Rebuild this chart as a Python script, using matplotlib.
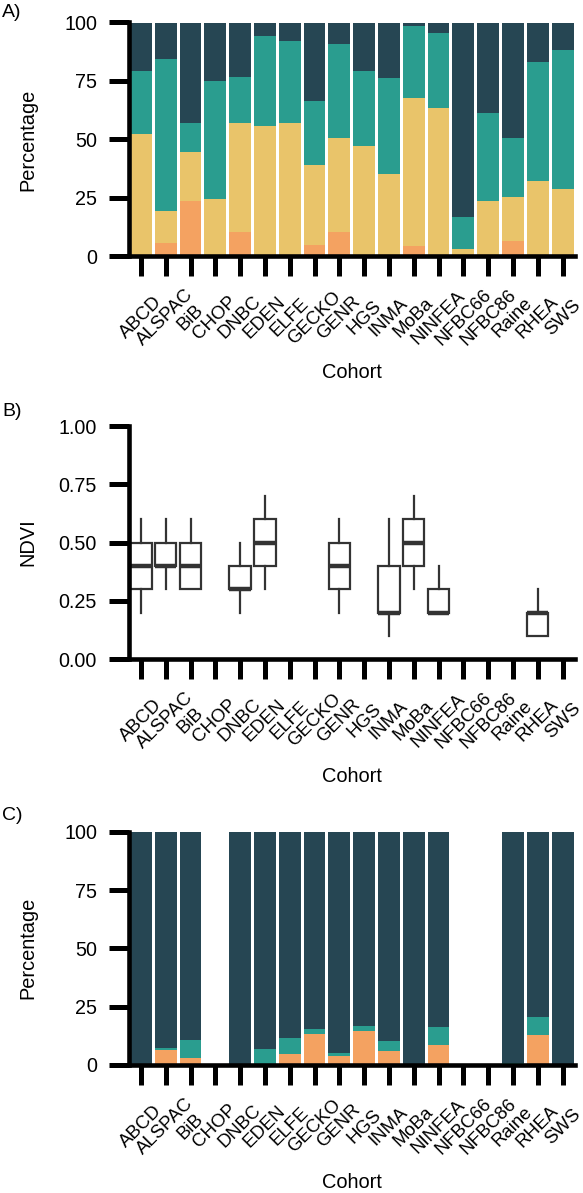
import numpy as np
import matplotlib
matplotlib.use("Agg")
import matplotlib.pyplot as plt
from matplotlib import transforms

plt.rcParams['font.family'] = ['Liberation Sans', 'DejaVu Sans']

cohorts = ['ABCD', 'ALSPAC', 'BiB', 'CHOP', 'DNBC', 'EDEN', 'ELFE', 'GECKO', 'GENR',
           'HGS', 'INMA', 'MoBa', 'NINFEA', 'NFBC66', 'NFBC86', 'Raine', 'RHEA', 'SWS']

# Panel A: percentage per category (stacked bottom -> top)
a_cat1 = [0, 5.7, 23.8, 0, 10.4, 0, 0, 5.0, 10.4, 0, 0, 4.6, 0, 0, 0, 6.6, 0, 0]
a_cat2 = [52.4, 13.8, 21.0, 24.5, 46.6, 55.6, 57.0, 34.1, 40.4, 47.0, 35.1, 63.2, 63.3, 3.3, 23.6, 18.9, 32.2, 28.9]
a_cat3 = [26.8, 65.0, 12.1, 50.3, 19.8, 38.7, 35.1, 27.4, 40.2, 32.2, 41.1, 30.5, 32.4, 13.5, 37.7, 25.3, 50.9, 59.5]
a_cat4 = [20.8, 15.5, 43.1, 25.2, 23.2, 5.7, 7.9, 33.5, 9.0, 20.8, 23.8, 1.7, 4.3, 83.2, 38.7, 49.2, 16.9, 11.6]

# Panel B: NDVI box summaries (NaN = no data)
b_whislo = [0.2, 0.3, 0.3, np.nan, 0.2, 0.3, np.nan, np.nan, 0.2, np.nan, 0.1, 0.3, 0.2, np.nan, np.nan, np.nan, 0.1, np.nan]
b_q1     = [0.3, 0.4, 0.3, np.nan, 0.3, 0.4, np.nan, np.nan, 0.3, np.nan, 0.2, 0.4, 0.2, np.nan, np.nan, np.nan, 0.1, np.nan]
b_med    = [0.4, 0.4, 0.4, np.nan, 0.3, 0.5, np.nan, np.nan, 0.4, np.nan, 0.2, 0.5, 0.2, np.nan, np.nan, np.nan, 0.2, np.nan]
b_q3     = [0.5, 0.5, 0.5, np.nan, 0.4, 0.6, np.nan, np.nan, 0.5, np.nan, 0.4, 0.6, 0.3, np.nan, np.nan, np.nan, 0.2, np.nan]
b_whishi = [0.6, 0.6, 0.6, np.nan, 0.5, 0.7, np.nan, np.nan, 0.6, np.nan, 0.6, 0.7, 0.4, np.nan, np.nan, np.nan, 0.3, np.nan]

# Panel C: percentage per category (stacked bottom -> top)
c_cat1 = [0, 6.4, 3.1, np.nan, 0, 0, 4.9, 13.1, 4.0, 14.6, 5.9, 0, 8.7, np.nan, np.nan, 0, 12.9, 0]
c_cat3 = [0, 0.7, 7.8, np.nan, 0, 7.0, 6.7, 2.3, 1.0, 2.3, 4.2, 0, 7.6, np.nan, np.nan, 1.0, 7.5, 0]
c_cat4 = [100, 92.9, 89.1, np.nan, 100, 93.0, 88.4, 84.6, 95.0, 83.1, 89.9, 100, 83.7, np.nan, np.nan, 99.0, 79.6, 100]

pct_ticks = [0, 25, 50, 75, 100]
ndvi_ticks = [0.0, 0.25, 0.5, 0.75, 1.0]
ndvi_ticklabels = ['0.00', '0.25', '0.50', '0.75', '1.00']

c_orange = '#f4a261'
c_yellow = '#e9c46a'
c_teal = '#2a9d8f'
c_dark = '#264653'

W, H = 583, 1193
fig = plt.figure(figsize=(W / 100, H / 100), dpi=100)

left = 128.5 / W
width = (575 - 128.5) / W

def rect(y0px, y1px):
    return [left, 1 - y1px / H, width, (y1px - y0px) / H]

axA = fig.add_axes(rect(22.5, 256.4))
axB = fig.add_axes(rect(426.0, 659.3))
axC = fig.add_axes(rect(831.7, 1065.0))

x = np.arange(1, len(cohorts) + 1)
bw = 0.88

def stack(ax, series, colors):
    bottom = np.zeros(len(cohorts))
    for vals, col in zip(series, colors):
        v = np.array(vals, dtype=float)
        ax.bar(x, np.nan_to_num(v), width=bw, bottom=bottom, color=col, linewidth=0)
        bottom = bottom + np.nan_to_num(v)

stack(axA, [a_cat1, a_cat2, a_cat3, a_cat4], [c_orange, c_yellow, c_teal, c_dark])
stack(axC, [c_cat1, c_cat3, c_cat4], [c_orange, c_teal, c_dark])

# Box plot
stats = []
pos = []
for i in range(len(cohorts)):
    if np.isnan(b_med[i]):
        continue
    stats.append(dict(med=b_med[i], q1=b_q1[i], q3=b_q3[i], whislo=b_whislo[i],
                      whishi=b_whishi[i], fliers=[]))
    pos.append(x[i])
edge = '#333333'
axB.bxp(stats, positions=pos, widths=0.86, showcaps=False, showfliers=False,
        patch_artist=True,
        boxprops=dict(facecolor='white', edgecolor=edge, linewidth=1.6),
        whiskerprops=dict(color=edge, linewidth=1.6),
        medianprops=dict(color=edge, linewidth=3.2, solid_capstyle='butt'),
        manage_ticks=False)

for ax in (axA, axB, axC):
    ax.set_xlim(0.5, len(cohorts) + 0.5)
    for s in ('top', 'right'):
        ax.spines[s].set_visible(False)
    for s in ('left', 'bottom'):
        ax.spines[s].set_linewidth(3.3)
        ax.spines[s].set_capstyle('projecting')
    ax.tick_params(axis='both', length=14.6, width=3.6, color='black')
    ax.tick_params(axis='y', labelsize=14.2, pad=8)
    ax.tick_params(axis='x', labelsize=13.4, pad=29.5)
    ax.set_xticks(x)
    ax.set_xticklabels(cohorts, rotation=45, ha='center', va='center')
    ax.set_facecolor('white')

for ax in (axA, axC):
    ax.set_ylim(0, 100)
    ax.set_yticks(pct_ticks)
    ax.set_yticklabels([str(t) for t in pct_ticks])
axB.set_ylim(0, 1)
axB.set_yticks(ndvi_ticks)
axB.set_yticklabels(ndvi_ticklabels)

# Panel letters
for lab, ytop in (('A)', 4), ('B)', 403), ('C)', 807)):
    fig.text(2 / W, 1 - ytop / H, lab, fontsize=14, ha='left', va='top')

# Axis titles
xc = (128.5 + 575) / 2 / W
for ylab, yc in (('Percentage', 139.5), ('NDVI', 542.6), ('Percentage', 948.3)):
    fig.text(28 / W, 1 - yc / H, ylab, rotation=90, ha='center', va='center', fontsize=14.4)
for yc in (372.5, 776.0, 1183.0):
    fig.text(xc, 1 - yc / H, 'Cohort', ha='center', va='center', fontsize=14.4)

fig.savefig('out.png', dpi=100, facecolor='white')
